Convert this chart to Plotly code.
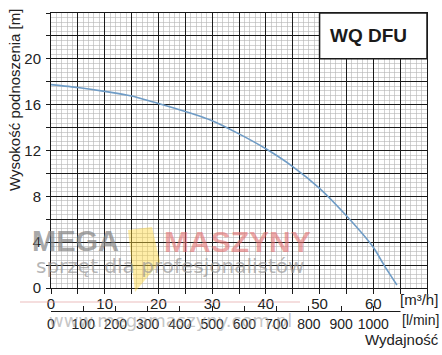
import plotly.graph_objects as go

# ---- data ----
flow_m3h = [0, 5, 10, 15, 20, 25, 30, 35, 40, 45, 50, 55, 60, 62, 64.4]
head_m = [17.75, 17.5, 17.16, 16.75, 16.1, 15.4, 14.6, 13.45, 12.15, 10.6, 8.7, 6.3, 3.55, 2.0, 0.26]

x_major = list(range(0, 71, 5))
x_labels = [str(v) if v % 10 == 0 and v <= 60 else "" for v in x_major]
y_major = list(range(0, 25, 2))
y_labels = [str(v) if v % 4 == 0 and v <= 20 else "" for v in y_major]
lmin_ticks = list(range(0, 1001, 100))
lmin_labels = [str(v) for v in lmin_ticks]

model = "WQ DFU"
y_title = "Wysokość podnoszenia [m]"
x_title = "Wydajność"

OFF = 0  # body margin removed via post_script
W, H = 442, 355
ml = 51
mt = 13
mr = W - 427
plot_bottom_px = 288
axis2_px = 311
mb = H - axis2_px
paper_h = H - mt - mb
paper_w = W - ml - mr
y_dom0 = (axis2_px - plot_bottom_px) / paper_h

font_fam = "Liberation Sans, Arial, sans-serif"
txt_col = "#222222"


def px(xp, yp):
    # window pixel -> paper coords
    return (xp - OFF - ml) / paper_w, 1 - (yp - OFF - mt) / paper_h


fig = go.Figure()
fig.add_trace(go.Scatter(
    x=flow_m3h, y=head_m, mode="lines",
    line=dict(color="#6f9cc6", width=1.6, shape="spline", smoothing=0.6),
    hoverinfo="skip", showlegend=False))
# invisible trace for secondary l/min axis
fig.add_trace(go.Scatter(x=[0, 70 * 1000 / 60], y=[None, None], xaxis="x2",
                         mode="markers", showlegend=False, hoverinfo="skip"))

fig.update_layout(
    template="none",
    width=W, height=H,
    margin=dict(l=ml, r=mr, t=mt, b=mb, pad=0, autoexpand=False),
    paper_bgcolor="white", plot_bgcolor="white",
    font=dict(family=font_fam, size=14, color=txt_col),
    xaxis=dict(
        range=[0, 70], tickvals=x_major, ticktext=x_labels, automargin=False,
        showgrid=True, gridcolor="#1a1a1a", gridwidth=1,
        minor=dict(dtick=1, tick0=0, showgrid=True, gridcolor="#b4b4b4", gridwidth=0.6,
                   ticks=""),
        ticks="outside", ticklen=5, tickcolor="#1a1a1a", tickwidth=1,
        ticklabelstandoff=-3,
        showline=True, linecolor="#1a1a1a", linewidth=1, mirror=True,
        zeroline=False, anchor="y", tickfont=dict(size=15, color=txt_col),
    ),
    xaxis2=dict(
        range=[0, 70 * 1000 / 60], overlaying="x", anchor="free", position=0,
        side="bottom", tickvals=lmin_ticks, ticktext=lmin_labels, automargin=False,
        showgrid=False, zeroline=False, ticks="inside", ticklen=5,
        tickcolor="#1a1a1a", showline=True, linecolor="#1a1a1a", linewidth=1,
        tickfont=dict(size=14, color=txt_col),
    ),
    yaxis=dict(
        range=[0, 24], domain=[y_dom0, 1], tickvals=y_major, ticktext=y_labels,
        automargin=False,
        showgrid=True, gridcolor="#1a1a1a", gridwidth=1,
        minor=dict(dtick=0.4, tick0=0, showgrid=True, gridcolor="#b4b4b4", gridwidth=0.6,
                   ticks=""),
        ticks="outside", ticklen=4, tickcolor="#1a1a1a", tickwidth=1,
        ticklabelstandoff=2,
        showline=True, linecolor="#1a1a1a", linewidth=1, mirror=True,
        zeroline=False, tickfont=dict(size=15, color=txt_col),
    ),
)

# title box
fig.add_shape(type="rect", xref="x", yref="y", x0=50, x1=70, y0=20, y1=24,
              fillcolor="white", line=dict(color="#1a1a1a", width=1.5), layer="above")
fig.add_annotation(x=59.2, y=22, xref="x", yref="y", text="<b>" + model + "</b>",
                   xanchor="center", yanchor="middle",
                   showarrow=False, font=dict(size=19, color="#1a1a1a", family=font_fam))

# axis titles and units
ax, ay = px(15, 100)
fig.add_annotation(x=ax, y=ay, xref="paper", yref="paper", xanchor="center", yanchor="middle",
                   text=y_title, textangle=-90, showarrow=False,
                   font=dict(size=15, color=txt_col))
ax, ay = px(440, 299)
fig.add_annotation(x=ax, y=ay, xref="paper", yref="paper", xanchor="right", yanchor="middle",
                   text="[m³/h]", showarrow=False, font=dict(size=15, color=txt_col))
ax, ay = px(441, 320)
fig.add_annotation(x=ax, y=ay, xref="paper", yref="paper", xanchor="right", yanchor="middle",
                   text="[l/min]", showarrow=False, font=dict(size=14, color=txt_col),
                   bgcolor="white")
ax, ay = px(441, 339)
fig.add_annotation(x=ax, y=ay, xref="paper", yref="paper", xanchor="right", yanchor="middle",
                   text=x_title, showarrow=False, font=dict(size=15, color=txt_col))

# watermark
x0, y0 = px(20, 302)
x1, y1 = px(300, 302)
fig.add_shape(type="line", xref="paper", yref="paper", x0=x0, y0=y0, x1=x1, y1=y1,
              line=dict(color="rgba(225,160,160,0.35)", width=2), layer="above")
fig.add_shape(type="path", xref="paper", yref="paper",
              path="M {0} {1} L {2} {3} L {4} {5} L {6} {7} Z".format(
                  *px(128, 230), *px(152, 227), *px(160, 262), *px(135, 292)),
              fillcolor="rgba(255,215,60,0.45)", line=dict(width=0), layer="above")
ax, ay = px(75, 241)
fig.add_annotation(x=ax, y=ay, xref="paper", yref="paper", text="<b>MEGA</b>",
                   xanchor="center", yanchor="middle",
                   showarrow=False, font=dict(size=29, color="rgba(130,130,130,0.7)",
                                              family=font_fam))
ax, ay = px(237, 241)
fig.add_annotation(x=ax, y=ay, xref="paper", yref="paper", text="<b>MASZYNY</b>",
                   xanchor="center", yanchor="middle",
                   showarrow=False, font=dict(size=30, color="rgba(225,110,110,0.6)",
                                              family=font_fam))
ax, ay = px(170, 266)
fig.add_annotation(x=ax, y=ay, xref="paper", yref="paper",
                   text="sprzęt dla profesjonalistów",
                   xanchor="center", yanchor="middle",
                   showarrow=False, font=dict(size=20, color="rgba(150,150,150,0.7)",
                                              family="DejaVu Sans, sans-serif"))
ax, ay = px(170, 320)
fig.add_annotation(x=ax, y=ay, xref="paper", yref="paper",
                   text="www.megamaszyny.com.pl",
                   xanchor="center", yanchor="middle",
                   showarrow=False, font=dict(size=18, color="rgba(150,150,150,0.55)",
                                              family="DejaVu Sans, sans-serif"))

fig.write_html("out.html",
               config={"displayModeBar": False, "staticPlot": True},
               post_script="document.body.style.margin='0';"
                           "document.body.style.overflow='hidden';")
